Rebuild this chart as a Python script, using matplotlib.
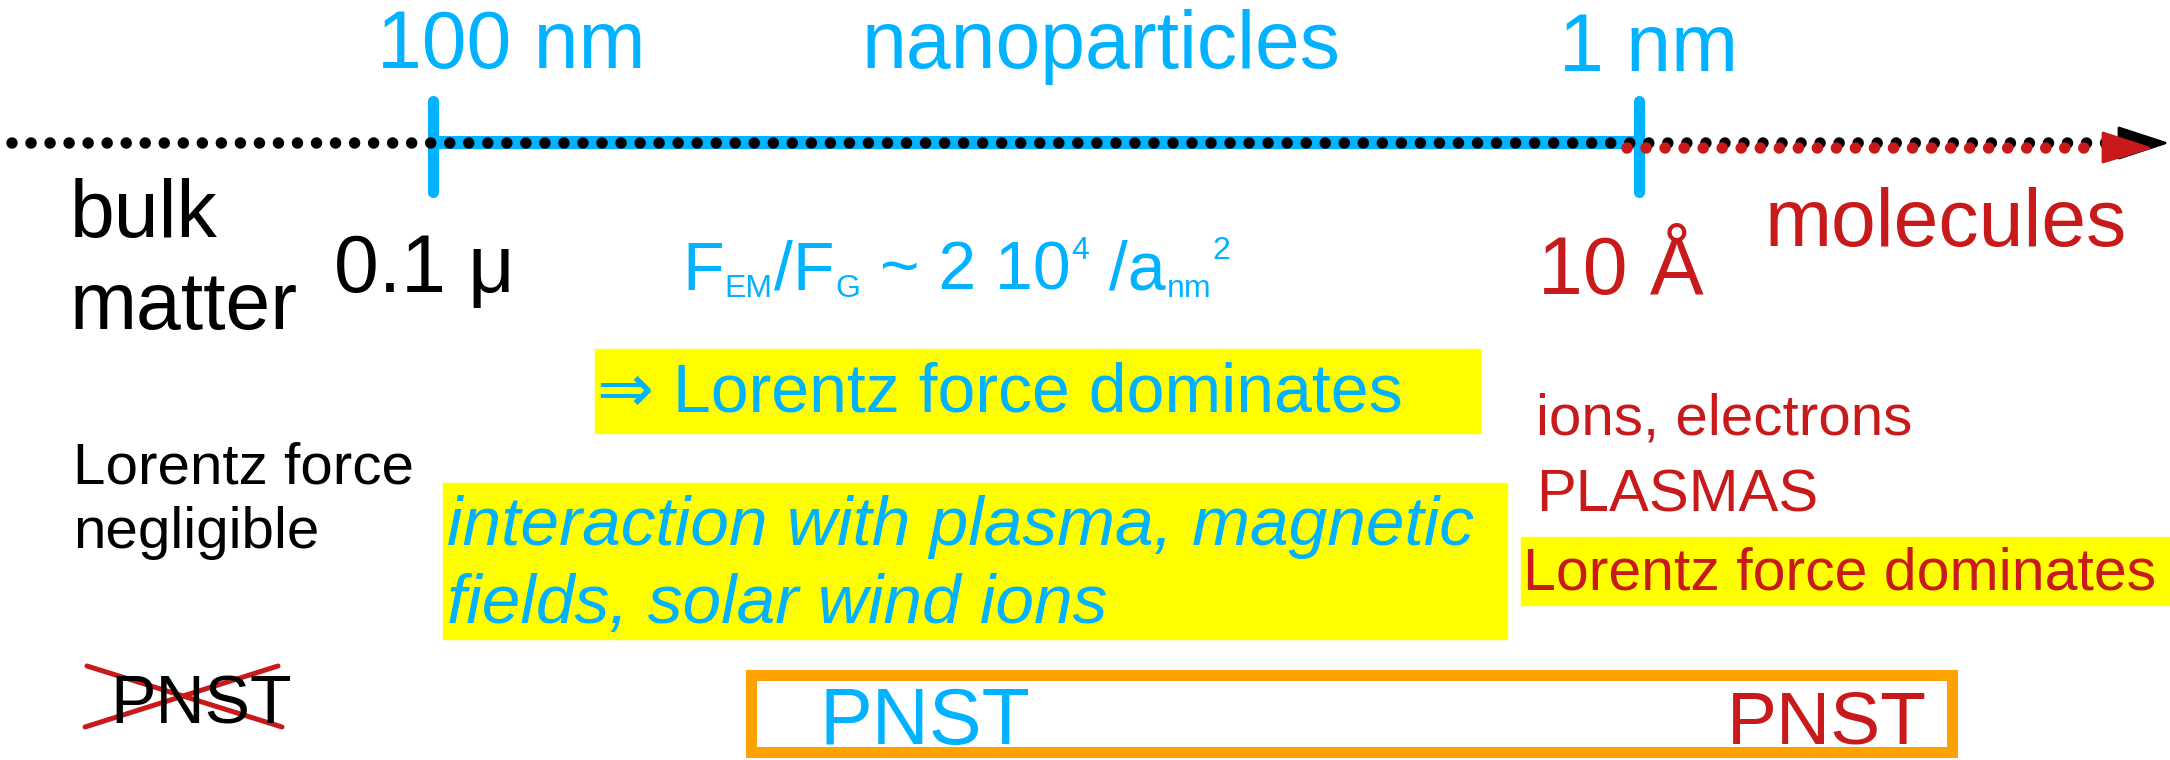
import matplotlib
matplotlib.use('Agg')
import matplotlib.pyplot as plt
from matplotlib.patches import Rectangle, Polygon

# labels along the size axis
scale_labels = ['100 nm', 'nanoparticles', '1 nm']
left_labels = ['bulk', 'matter']
small_size = '0.1 μ'
big_size = '10 Å'
right_label = 'molecules'
formula_parts = [('F', 'main'), ('EM', 'sub'), ('/F', 'main'), ('G', 'sub'),
                 (' ~ 2 10', 'main'), ('4', 'sup'), (' /a', 'main'), ('nm', 'sub'), ('2', 'sup')]
lorentz_dom = '⇒ Lorentz force dominates'
negligible = ['Lorentz force', 'negligible']
interaction = ['interaction with plasma, magnetic', 'fields, solar wind ions']
plasma_lines = ['ions, electrons', 'PLASMAS']
lorentz_dom_red = 'Lorentz force dominates'
pnst = 'PNST'

BLUE = '#00B2FF'
RED = '#C81A1A'
YELLOW = '#FFFF00'
ORANGE = '#FFA200'
FONT = ['Liberation Sans', 'DejaVu Sans']

fig = plt.figure(figsize=(21.7, 7.6), dpi=100)
ax = fig.add_axes([0, 0, 1, 1])
ax.set_xlim(0, 2170)
ax.set_ylim(760, 0)
ax.axis('off')

# size axis
ax.plot([433, 1639], [141.5, 141.5], color=BLUE, lw=9.4, solid_capstyle='butt', zorder=2)
ax.plot([12, 2115], [143, 143], color='black', lw=8.3, linestyle=(0, (0.001, 1.65)),
        dash_capstyle='round', zorder=3)
ax.add_patch(Polygon([[2119, 128], [2165, 143], [2119, 158]], closed=True, color='black',
                     joinstyle='round', lw=2, zorder=3))
ax.plot([1627, 2098], [148, 148], color=RED, lw=8.3, linestyle=(0, (0.001, 1.65)),
        dash_capstyle='round', zorder=4)
ax.add_patch(Polygon([[2103, 133], [2149, 148], [2103, 162]], closed=True, color=RED,
                     joinstyle='round', lw=2, zorder=4))
for xt in [433, 1639]:
    ax.plot([xt, xt], [101, 192], color=BLUE, lw=8, solid_capstyle='round', zorder=2.5)

# top labels
ax.text(377, 68, scale_labels[0], color=BLUE, fontsize=58, family=FONT, va='baseline')
ax.text(862, 68, scale_labels[1], color=BLUE, fontsize=58, family=FONT, va='baseline')
ax.text(1559, 71, scale_labels[2], color=BLUE, fontsize=58, family=FONT, va='baseline')

ax.text(70, 237, left_labels[0], color='black', fontsize=58, family=FONT, va='baseline')
ax.text(70, 329, left_labels[1], color='black', fontsize=58, family=FONT, va='baseline')
ax.text(334, 292, small_size, color='black', fontsize=58, family=FONT, va='baseline')
ax.text(1538, 294, big_size, color=RED, fontsize=58, family=FONT, va='baseline')
ax.text(1765, 246, right_label, color=RED, fontsize=58, family=FONT, va='baseline')

# formula, built piece by piece
renderer = fig.canvas.get_renderer()
x = 682
base = 290
for s, kind in formula_parts:
    if kind == 'main':
        t = ax.text(x, base, s, color=BLUE, fontsize=49, family=FONT, va='baseline')
    elif kind == 'sub':
        t = ax.text(x, base + 7, s, color=BLUE, fontsize=23, family=FONT, va='baseline')
    else:
        t = ax.text(x, base - 31, s, color=BLUE, fontsize=23, family=FONT, va='baseline')
    x = t.get_window_extent(renderer).x1 + 1

# yellow boxes
ax.add_patch(Rectangle((595, 349), 885, 84, color=YELLOW, zorder=0))
ax.add_patch(Rectangle((443, 483), 1064, 156, color=YELLOW, zorder=0))
ax.add_patch(Rectangle((1521, 537), 649, 68, color=YELLOW, zorder=0))

ax.text(597, 412, lorentz_dom, color=BLUE, fontsize=49, family=FONT, va='baseline')
ax.text(73, 483, negligible[0], color='black', fontsize=42, family=FONT, va='baseline')
ax.text(73, 548, negligible[1], color='black', fontsize=42, family=FONT, va='baseline')
ax.text(447, 545, interaction[0], color=BLUE, fontsize=50, family=FONT, style='italic',
        va='baseline')
ax.text(447, 623, interaction[1], color=BLUE, fontsize=50, family=FONT, style='italic',
        va='baseline')
ax.text(1536, 435, plasma_lines[0], color=RED, fontsize=42, family=FONT, va='baseline')
ax.text(1536, 511, plasma_lines[1], color=RED, fontsize=43, family=FONT, va='baseline')
ax.text(1523, 590, lorentz_dom_red, color=RED, fontsize=42.5, family=FONT, va='baseline')

# crossed PNST
ax.text(110, 723, pnst, color='black', fontsize=49, family=FONT, va='baseline')
ax.plot([87, 282], [666, 727], color=RED, lw=3.6, solid_capstyle='round')
ax.plot([85, 278], [727, 666], color=RED, lw=3.6, solid_capstyle='round')

# orange box
ax.add_patch(Rectangle((750.5, 674.5), 1201, 77, fill=False, edgecolor=ORANGE, lw=7.9))
ax.text(820, 744, pnst, color=BLUE, fontsize=57, family=FONT, va='baseline')
ax.text(1727, 744, pnst, color=RED, fontsize=54, family=FONT, va='baseline')

fig.savefig('out.png', dpi=100)
